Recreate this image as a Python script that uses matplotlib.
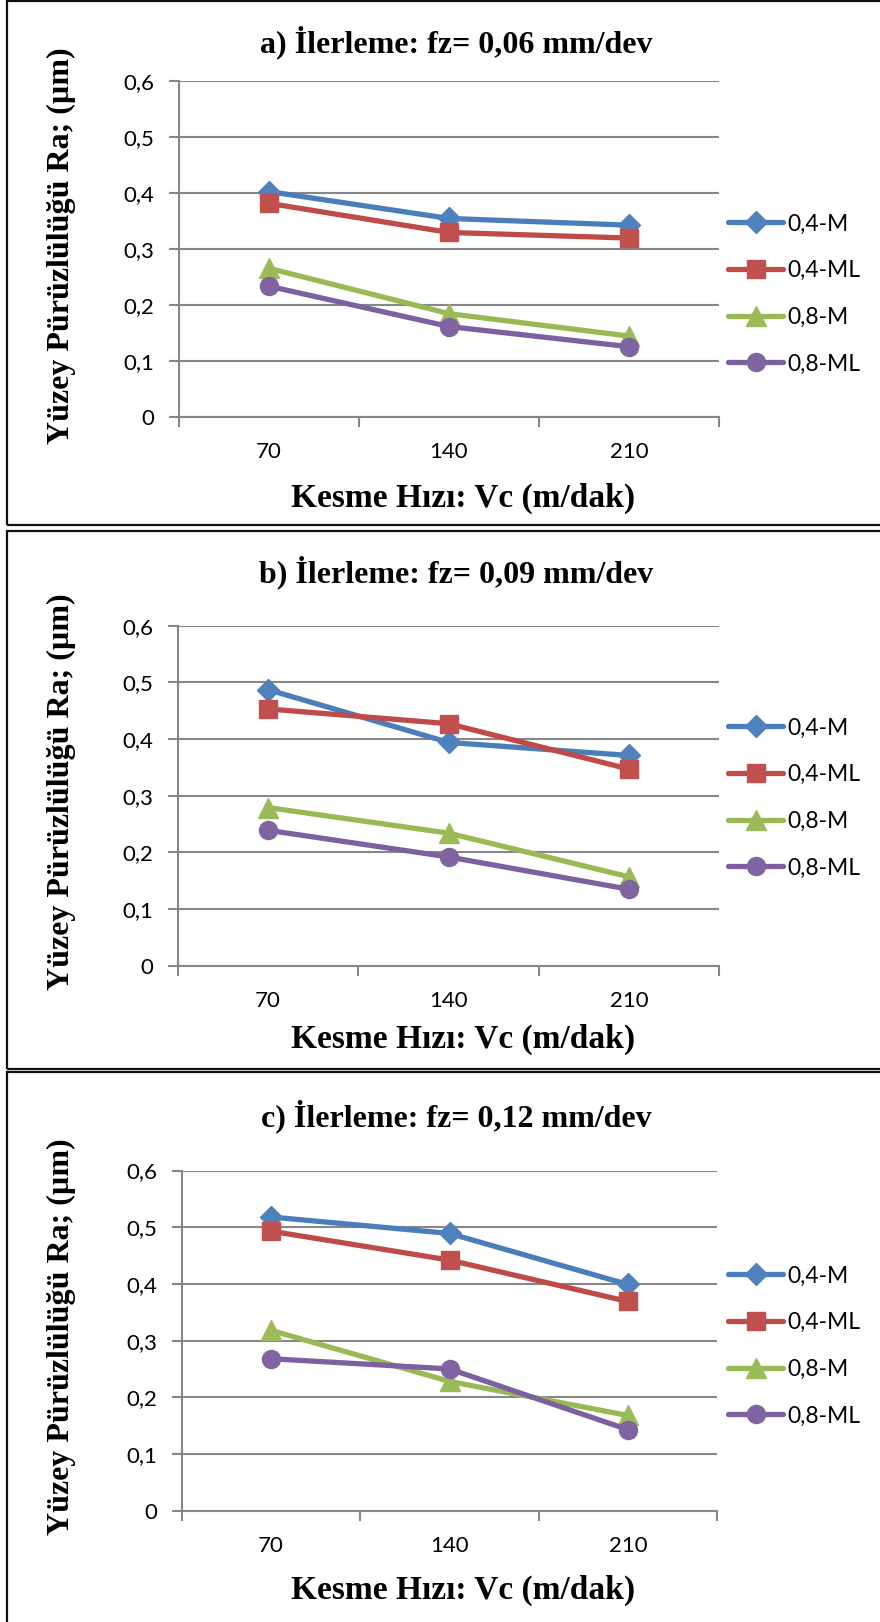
import matplotlib
matplotlib.use("Agg")
import matplotlib.pyplot as plt
from matplotlib.lines import Line2D
from matplotlib.patches import Rectangle

# Cutting speeds (m/min) and series names
speeds = ["70", "140", "210"]
series_names = ["0,4-M", "0,4-ML", "0,8-M", "0,8-ML"]

# Surface roughness Ra (µm) per feed rate
ra_006 = {
    "0,4-M": [0.402, 0.354, 0.342],
    "0,4-ML": [0.381, 0.329, 0.319],
    "0,8-M": [0.265, 0.184, 0.144],
    "0,8-ML": [0.233, 0.161, 0.125],
}
ra_009 = {
    "0,4-M": [0.487, 0.394, 0.371],
    "0,4-ML": [0.453, 0.427, 0.347],
    "0,8-M": [0.279, 0.234, 0.157],
    "0,8-ML": [0.239, 0.192, 0.135],
}
ra_012 = {
    "0,4-M": [0.518, 0.489, 0.399],
    "0,4-ML": [0.493, 0.442, 0.369],
    "0,8-M": [0.318, 0.228, 0.168],
    "0,8-ML": [0.268, 0.250, 0.143],
}
titles = [
    "a) İlerleme: fz= 0,06 mm/dev",
    "b) İlerleme: fz= 0,09 mm/dev",
    "c) İlerleme: fz= 0,12 mm/dev",
]
y_ticks = [0, 0.1, 0.2, 0.3, 0.4, 0.5, 0.6]
y_tick_labels = ["0", "0,1", "0,2", "0,3", "0,4", "0,5", "0,6"]
x_label = "Kesme Hızı: Vc (m/dak)"
y_label = "Yüzey Pürüzlülüğü Ra; (µm)"

styles = {
    "0,4-M": dict(color="#4A7EBB", mfc="#4F81BD", marker="D", ms=11.5),
    "0,4-ML": dict(color="#BE4B48", mfc="#C0504D", marker="s", ms=13),
    "0,8-M": dict(color="#98B954", mfc="#9BBB59", marker="^", ms=14),
    "0,8-ML": dict(color="#7D60A0", mfc="#8064A2", marker="o", ms=13),
}

W, H = 880, 1622
fig = plt.figure(figsize=(W / 100, H / 100), dpi=100)
fig.patch.set_facecolor("white")

serif = ["Liberation Serif", "DejaVu Serif"]
sans = ["Lato", "DejaVu Sans"]
grid_grey = "#878787"


def fx(px):
    return px / W


def fy(py):
    return 1 - py / H


# panel layout in pixels: (axes top, axes bottom, axes left, axes right,
# title y, x-label y, y-label y, legend centre y, frame top, frame bottom)
panels = [
    (80.7, 416.7, 179, 719, 42, 498, 246, 294, 1, 525),
    (625.6, 965.8, 178, 719, 572, 1039, 792, 798, 531, 1069),
    (1170.5, 1510.7, 182, 717, 1116, 1590, 1337, 1346, 1072, 1640),
]
datasets = [ra_006, ra_009, ra_012]

for (top, bot, left, right, ty, xly, yly, legy, ftop, fbot), data, title in zip(
    panels, datasets, titles
):
    # panel frame
    fig.add_artist(
        Rectangle(
            (fx(7), fy(fbot)), fx(W + 20) - fx(7), fy(ftop) - fy(fbot),
            transform=fig.transFigure, fill=False, edgecolor="#111111",
            linewidth=1.6, clip_on=False,
        )
    )

    ax = fig.add_axes([fx(left), fy(bot), fx(right) - fx(left), fy(top) - fy(bot)])
    x = list(range(len(speeds)))
    for name in series_names:
        st = styles[name]
        ax.plot(
            x, data[name], color=st["color"], linewidth=3.8,
            marker=st["marker"], markersize=st["ms"],
            markerfacecolor=st["mfc"], markeredgecolor=st["mfc"],
            solid_capstyle="round", zorder=3, clip_on=False,
        )

    ax.set_xlim(-0.5, len(speeds) - 0.5)
    ax.set_ylim(0, 0.6)
    ax.set_yticks(y_ticks)
    ax.set_yticklabels(y_tick_labels, fontfamily=sans, fontsize=16)
    ax.yaxis.grid(True, color=grid_grey, linewidth=1.5, zorder=0)
    ax.set_axisbelow(True)

    ax.set_xticks([i - 0.5 for i in range(len(speeds) + 1)])
    ax.set_xticklabels([])
    ax.set_xticks(x, minor=True)
    ax.set_xticklabels(speeds, minor=True, fontfamily=sans, fontsize=16)
    ax.tick_params(axis="x", which="minor", length=0, pad=18)
    ax.tick_params(axis="x", which="major", length=7, width=1.5, color=grid_grey)
    ax.tick_params(axis="y", length=7, width=1.5, color=grid_grey, pad=11)

    for side in ("top", "right"):
        ax.spines[side].set_visible(False)
    for side in ("left", "bottom"):
        ax.spines[side].set_color(grid_grey)
        ax.spines[side].set_linewidth(1.5)
    ax.set_facecolor("none")

    fig.text(fx(456), fy(ty), title, ha="center", va="center",
             fontfamily=serif, fontweight="bold", fontsize=23)
    fig.text(fx(463), fy(xly), x_label, ha="center", va="center",
             fontfamily=serif, fontweight="bold", fontsize=24)
    fig.text(fx(61), fy(yly), y_label, ha="center", va="center", rotation=90,
             fontfamily=serif, fontweight="bold", fontsize=23)

    handles = [
        Line2D([0], [0], color=styles[n]["color"], linewidth=3.8,
               marker=styles[n]["marker"], markersize=styles[n]["ms"],
               markerfacecolor=styles[n]["mfc"], markeredgecolor=styles[n]["mfc"],
               solid_capstyle="round")
        for n in series_names
    ]
    fig.legend(
        handles, series_names, loc="center left",
        bbox_to_anchor=(fx(728), fy(legy)),
        frameon=False, prop={"family": sans, "size": 16.5},
        handlelength=2.4, handletextpad=0.17, labelspacing=1.12,
        borderaxespad=0, borderpad=0,
    )

fig.savefig("out.png", dpi=100, facecolor="white")
